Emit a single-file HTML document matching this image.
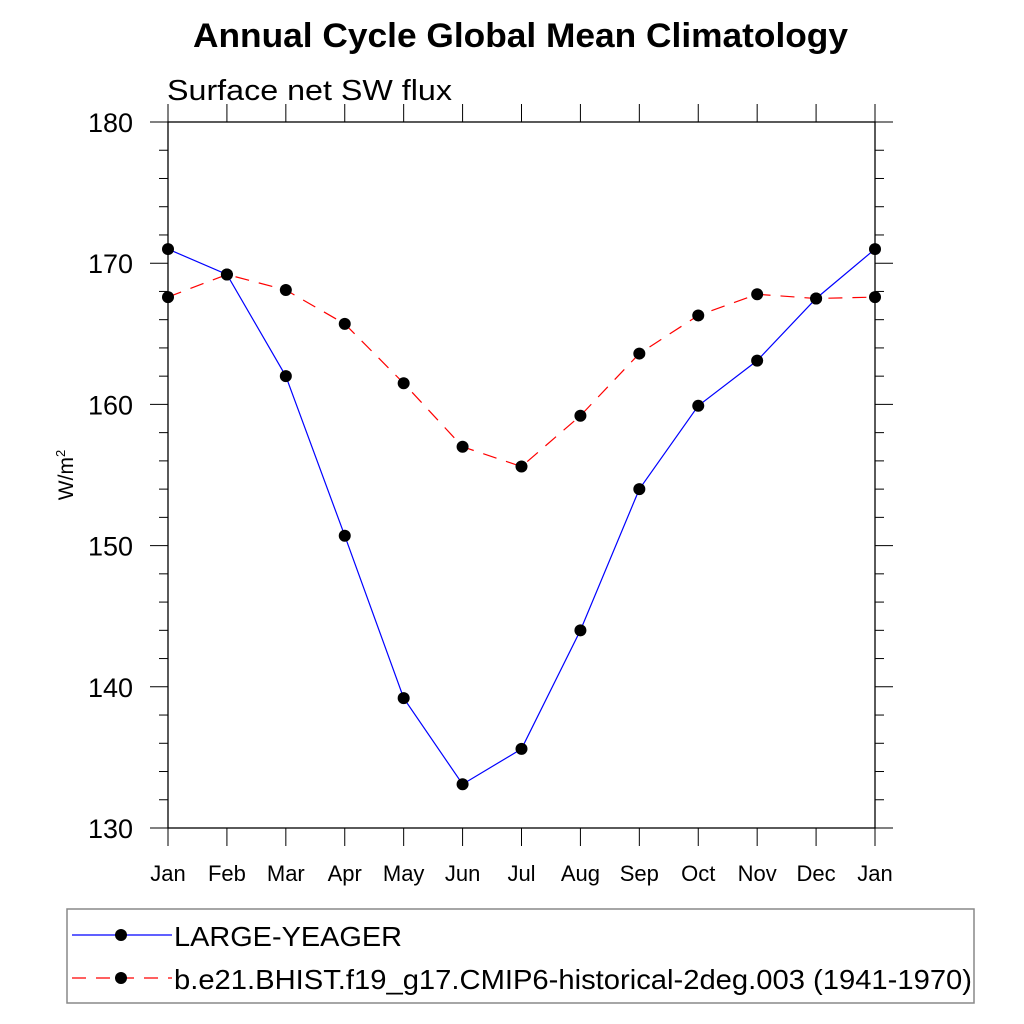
<!DOCTYPE html>
<html><head><meta charset="utf-8"><style>body{margin:0;background:#fff}svg{display:block;font-family:"Liberation Sans",sans-serif}</style></head>
<body>
<svg id="c" width="1024" height="1024">
<text x="193" y="47" font-size="34" font-weight="bold" textLength="655" lengthAdjust="spacingAndGlyphs">Annual Cycle Global Mean Climatology</text>
<text x="167" y="100" font-size="29" textLength="285" lengthAdjust="spacingAndGlyphs">Surface net SW flux</text>
<text transform="translate(73,475) rotate(-90)" text-anchor="middle" font-size="21">W/m<tspan dy="-8" font-size="13">2</tspan></text>
<g id="axes"></g><g id="series"></g>
<rect x="67" y="909" width="907" height="94" fill="none" stroke="#888" stroke-width="1.5"/>
<g>
<line x1="72" y1="935" x2="172" y2="935" stroke="#00f" stroke-width="1.2"/><circle cx="121" cy="935" r="6" fill="#000"/>
<text x="174" y="946" font-size="28" textLength="228" lengthAdjust="spacingAndGlyphs">LARGE-YEAGER</text></g>
<g>
<line x1="72" y1="978" x2="172" y2="978" stroke="#f00" stroke-width="1.2" stroke-dasharray="14,10"/><circle cx="121" cy="978" r="6" fill="#000"/>
<text x="174" y="989" font-size="28" textLength="798" lengthAdjust="spacingAndGlyphs">b.e21.BHIST.f19_g17.CMIP6-historical-2deg.003 (1941-1970)</text></g>
</svg>
<script>
const months=["Jan","Feb","Mar","Apr","May","Jun","Jul","Aug","Sep","Oct","Nov","Dec","Jan"];
const yTicks=[130,140,150,160,170,180];
const largeYeager=[171.0,169.2,162.0,150.7,139.2,133.1,135.6,144.0,154.0,159.9,163.1,167.5,171.0];
const cmip6=[167.6,169.2,168.1,165.7,161.5,157.0,155.6,159.2,163.6,166.3,167.8,167.5,167.6];
const NS="http://www.w3.org/2000/svg";
const X0=168,X1=875,Y0=828,Y1=122;
const xs=i=>X0+i*(X1-X0)/12, ys=v=>Y0-(v-130)*(Y0-Y1)/50;
function mk(t,a,p){const e=document.createElementNS(NS,t);for(const k in a)e.setAttribute(k,a[k]);p.appendChild(e);return e;}
const ax=document.getElementById('axes');
const fr=mk('rect',{x:X0,y:Y1,width:X1-X0,height:Y0-Y1,fill:'none',stroke:'#000','stroke-width':1.3},ax);


for(let v=130;v<=180;v+=2){const y=ys(v),maj=v%10==0,L=maj?18:9;
mk('line',{x1:X0-L,y1:y,x2:X0,y2:y,stroke:'#000','stroke-width':1},ax);
mk('line',{x1:X1,y1:y,x2:X1+L,y2:y,stroke:'#000','stroke-width':1},ax);}
yTicks.forEach(v=>{const t=mk('text',{x:133,y:ys(v)+10,'text-anchor':'end','font-size':27},ax);t.textContent=v;

});
months.forEach((m,i)=>{const x=xs(i);
mk('line',{x1:x,y1:Y0,x2:x,y2:Y0+18,stroke:'#000','stroke-width':1},ax);
mk('line',{x1:x,y1:Y1-18,x2:x,y2:Y1,stroke:'#000','stroke-width':1},ax);
const t=mk('text',{x:x,y:881,'text-anchor':'middle','font-size':22},ax);t.textContent=m;

});
const sg=document.getElementById('series');
function draw(d,col,dash,name){const g=mk('g',{},sg);


mk('polyline',{points:d.map((v,i)=>xs(i)+','+ys(v)).join(' '),fill:'none',stroke:col,'stroke-width':1.2,'stroke-dasharray':dash},g);
d.forEach((v,i)=>{const c=mk('circle',{cx:xs(i),cy:ys(v),r:6,fill:'#000'},g);

});}
draw(cmip6,'#f00','14,10','cmip6-series');
draw(largeYeager,'#00f','none','large-yeager-series');
</script>
</body></html>
